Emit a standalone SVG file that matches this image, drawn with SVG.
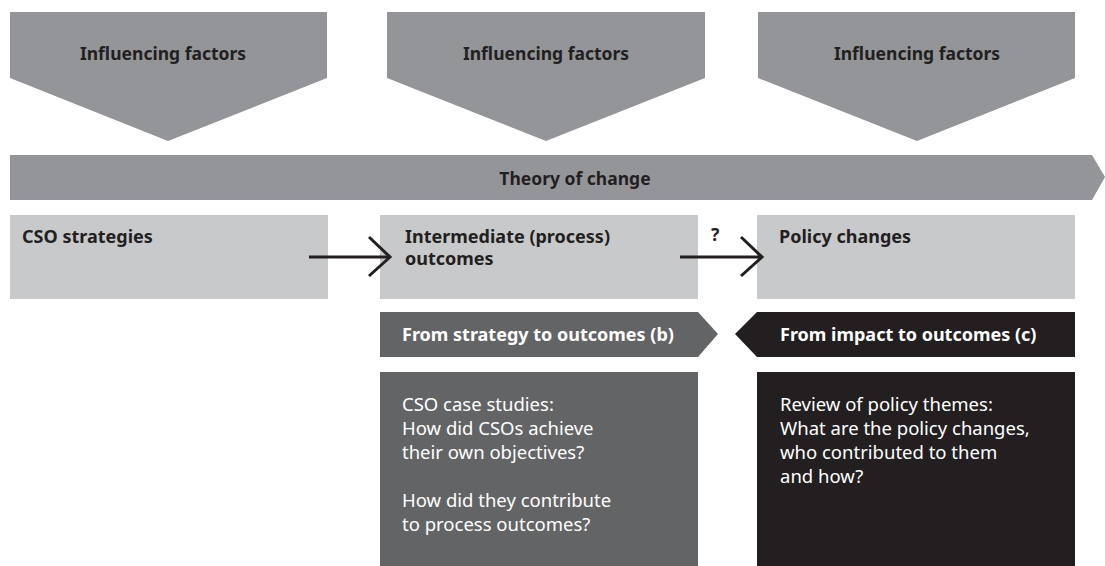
<svg xmlns="http://www.w3.org/2000/svg" width="1105" height="566" viewBox="0 0 1105 566">
<style>
.top{fill:#939598}
.light{fill:#c8c9cb}
.dg{fill:#636466}
.blk{fill:#231f20}
.b{font-family:"Noto Sans","Open Sans",sans-serif;font-weight:bold;font-size:17.5px;fill:#231f20}
.bl{font-family:"Noto Sans","Open Sans",sans-serif;font-weight:bold;font-size:18px;fill:#231f20}
.bw{font-family:"Noto Sans","Open Sans",sans-serif;font-weight:bold;font-size:18px;fill:#ffffff}
.r{font-family:"Noto Sans","Open Sans",sans-serif;font-size:18.5px;fill:#ffffff}
.ln{fill:none;stroke:#231f20;stroke-width:3}
</style>
<rect width="1105" height="566" fill="#ffffff"/>
<g id="influence1">
<polygon class="top" points="10,12 327,12 327,78 168,141 10,78"/>
<text class="b" x="163" y="60" text-anchor="middle">Influencing factors</text>
</g>
<g id="influence2">
<polygon class="top" points="387,12 705,12 705,78 546,141 387,78"/>
<text class="b" x="546" y="60" text-anchor="middle">Influencing factors</text>
</g>
<g id="influence3">
<polygon class="top" points="758,12 1075,12 1075,78 917,141 758,78"/>
<text class="b" x="917" y="60" text-anchor="middle">Influencing factors</text>
</g>
<g id="theory">
<polygon class="top" points="10,155 1092,155 1105,177 1092,200 10,200"/>
<text class="b" x="575" y="185" text-anchor="middle">Theory of change</text>
</g>
<g id="cso-strategies">
<rect class="light" x="10" y="215" width="318" height="84"/>
<text class="bl" x="22" y="243">CSO strategies</text>
</g>
<g id="intermediate">
<rect class="light" x="380" y="215" width="318" height="84"/>
<text class="bl" x="405" y="243">Intermediate (process)</text>
<text class="bl" x="405" y="265">outcomes</text>
</g>
<g id="policy-changes">
<rect class="light" x="757" y="215" width="318" height="84"/>
<text class="bl" x="779" y="243">Policy changes</text>
</g>
<g id="connectors">
<line class="ln" x1="309" y1="257" x2="389" y2="257"/>
<polyline class="ln" points="369,237 390,257 369,276"/>
<line class="ln" x1="680" y1="257" x2="762" y2="257"/>
<polyline class="ln" points="741,237 762,257 741,276"/>
<text class="b" x="711" y="241">?</text>
</g>
<g id="banner-b">
<polygon class="dg" points="380,312 698,312 718,334 698,357 380,357"/>
<text class="bw" x="402" y="341">From strategy to outcomes (b)</text>
</g>
<g id="banner-c">
<polygon class="blk" points="757,312 1075,312 1075,357 757,357 735,334"/>
<text class="bw" x="780" y="341">From impact to outcomes (c)</text>
</g>
<g id="case-studies">
<rect class="dg" x="380" y="372" width="318" height="194"/>
<text class="r" x="402" y="411">CSO case studies:</text>
<text class="r" x="402" y="435">How did CSOs achieve</text>
<text class="r" x="402" y="459">their own objectives?</text>
<text class="r" x="402" y="507">How did they contribute</text>
<text class="r" x="402" y="531">to process outcomes?</text>
</g>
<g id="policy-review">
<rect class="blk" x="757" y="372" width="318" height="194"/>
<text class="r" x="780" y="411">Review of policy themes:</text>
<text class="r" x="780" y="435">What are the policy changes,</text>
<text class="r" x="780" y="459">who contributed to them</text>
<text class="r" x="780" y="483">and how?</text>
</g>
</svg>
